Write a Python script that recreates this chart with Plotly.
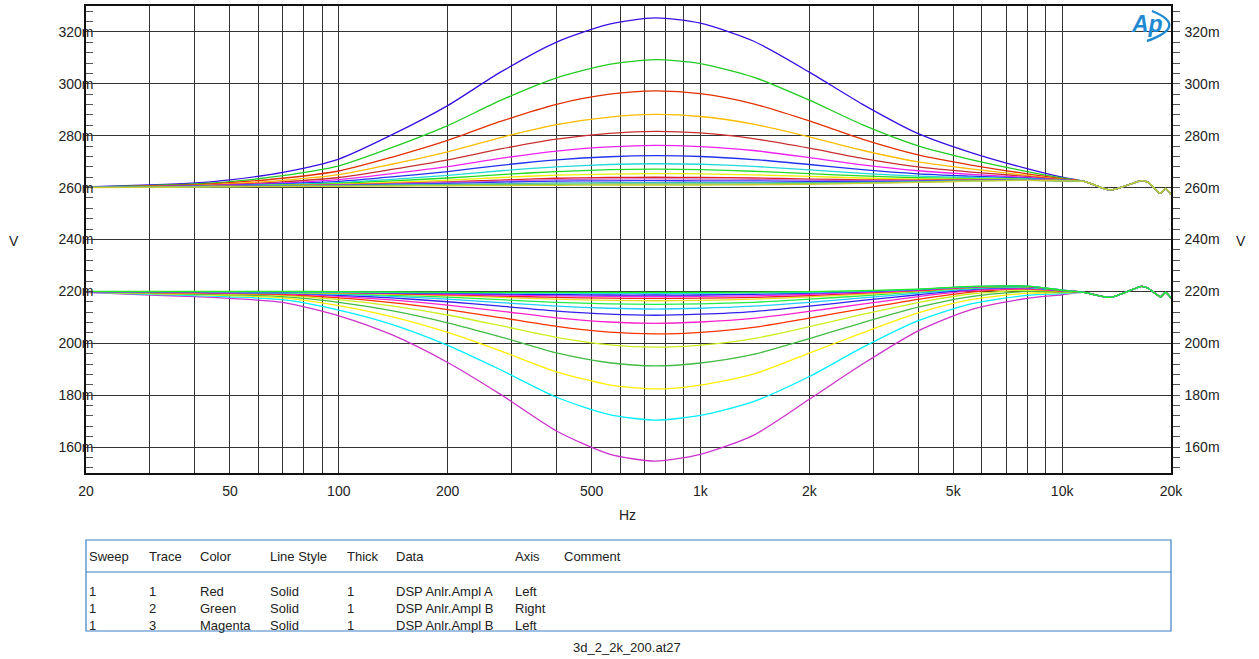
import plotly.graph_objects as go

# ---------------- data (values in mV) ----------------
FREQ = [20, 30, 40, 50, 70, 100, 140, 200, 280, 400, 560, 750, 1000, 1400,
        2000, 2800, 4000, 5600, 8000, 10000]
TAIL_FREQ = [11500, 13600, 16600, 17300, 18700, 19300, 20000]
TAIL_UPPER = [262.4, 259.1, 262.7, 262.0, 257.8, 259.7, 257.3]
TAIL_LOWER = [219.6, 217.7, 221.9, 221.2, 217.9, 219.6, 217.4]

U01 = [260.3, 261.0, 261.8, 263.0, 265.9, 271.0, 280.3, 291.6, 304.5, 316.1, 323.0, 325.4, 323.4, 316.5, 304.5, 292.2, 280.8, 273.5, 267.3, 264.0]
U02 = [260.2, 260.8, 261.4, 262.3, 264.6, 268.4, 275.4, 283.9, 293.6, 302.3, 307.5, 309.3, 307.8, 302.6, 293.7, 284.3, 276.1, 270.8, 266.2, 263.7]
U03 = [260.2, 260.6, 261.1, 261.9, 263.6, 266.4, 271.7, 278.2, 285.5, 292.1, 296.0, 297.3, 296.2, 292.3, 285.7, 278.7, 272.6, 268.7, 265.3, 263.4]
U04 = [260.2, 260.5, 260.9, 261.5, 262.8, 265.0, 269.0, 273.8, 279.3, 284.3, 287.2, 288.2, 287.4, 284.5, 279.6, 274.4, 269.9, 267.2, 264.7, 263.2]
U05 = [260.2, 260.5, 260.8, 261.2, 262.2, 263.9, 267.0, 270.7, 274.9, 278.7, 280.9, 281.7, 281.1, 278.9, 275.2, 271.3, 268.0, 266.0, 264.3, 263.1]
U06 = [260.1, 260.4, 260.7, 261.0, 261.8, 263.1, 265.4, 268.1, 271.3, 274.1, 275.7, 276.3, 275.8, 274.3, 271.6, 268.8, 266.5, 265.1, 263.9, 262.9]
U07 = [260.1, 260.3, 260.6, 260.9, 261.5, 262.4, 264.1, 266.2, 268.6, 270.7, 271.9, 272.3, 272.0, 270.8, 268.9, 266.9, 265.3, 264.4, 263.6, 262.9]
U08 = [260.1, 260.3, 260.5, 260.7, 261.2, 261.9, 263.2, 264.7, 266.5, 268.0, 268.9, 269.2, 269.0, 268.2, 266.8, 265.5, 264.4, 263.9, 263.4, 262.8]
U09 = [260.1, 260.3, 260.4, 260.6, 261.0, 261.6, 262.6, 263.7, 265.0, 266.2, 266.9, 267.1, 266.9, 266.3, 265.4, 264.5, 263.8, 263.5, 263.2, 262.7]
U10 = [260.1, 260.3, 260.4, 260.6, 260.9, 261.3, 262.0, 262.9, 263.9, 264.8, 265.2, 265.4, 265.3, 264.9, 264.3, 263.7, 263.3, 263.3, 263.1, 262.7]
U11 = [260.1, 260.2, 260.4, 260.5, 260.8, 261.1, 261.6, 262.2, 262.9, 263.6, 263.9, 264.0, 263.9, 263.7, 263.3, 263.0, 262.9, 263.0, 263.0, 262.7]
U12 = [260.1, 260.2, 260.4, 260.5, 260.7, 261.0, 261.4, 262.0, 262.5, 263.1, 263.3, 263.4, 263.3, 263.2, 262.9, 262.7, 262.7, 262.9, 263.0, 262.7]
U13 = [260.1, 260.2, 260.3, 260.5, 260.6, 260.9, 261.2, 261.6, 262.1, 262.5, 262.6, 262.7, 262.6, 262.6, 262.4, 262.4, 262.5, 262.8, 262.9, 262.6]
U14 = [260.1, 260.2, 260.3, 260.4, 260.6, 260.7, 261.0, 261.2, 261.5, 261.8, 261.9, 261.9, 261.9, 261.9, 261.9, 262.0, 262.3, 262.7, 262.9, 262.6]
U15 = [260.1, 260.2, 260.3, 260.4, 260.5, 260.7, 260.8, 261.0, 261.2, 261.3, 261.4, 261.4, 261.4, 261.4, 261.6, 261.8, 262.1, 262.6, 262.8, 262.6]
U16 = [260.0, 260.1, 260.2, 260.3, 260.4, 260.5, 260.6, 260.7, 260.8, 260.9, 261.0, 261.0, 261.0, 261.1, 261.3, 261.6, 262.0, 262.5, 262.8, 262.6]

L01 = [219.6, 218.6, 218.0, 217.3, 215.8, 210.6, 203.3, 192.6, 180.3, 166.2, 157.3, 154.6, 157.2, 164.5, 178.4, 191.9, 204.8, 213.0, 217.3, 218.7]
L02 = [219.7, 218.9, 218.4, 217.9, 216.8, 212.8, 207.3, 199.2, 189.8, 179.2, 172.5, 170.4, 172.2, 177.5, 187.2, 198.3, 208.7, 215.2, 218.5, 219.1]
L03 = [219.7, 219.1, 218.8, 218.4, 217.5, 214.5, 210.3, 204.2, 197.1, 189.0, 184.0, 182.4, 183.9, 188.1, 196.2, 204.0, 211.7, 216.8, 219.3, 219.5]
L04 = [219.7, 219.3, 219.0, 218.7, 218.0, 215.8, 212.6, 207.9, 202.5, 196.3, 192.5, 191.3, 192.4, 195.7, 201.8, 207.9, 213.9, 218.0, 220.0, 219.7]
L05 = [219.7, 219.4, 219.2, 219.0, 218.5, 216.8, 214.4, 210.9, 206.8, 202.3, 199.4, 198.5, 199.3, 201.8, 206.4, 211.1, 215.7, 219.0, 220.5, 219.9]
L06 = [219.8, 219.5, 219.4, 219.2, 218.8, 217.5, 215.7, 213.0, 209.9, 206.5, 204.3, 203.6, 204.2, 206.1, 209.7, 213.3, 216.9, 219.7, 220.9, 220.1]
L07 = [219.8, 219.6, 219.5, 219.3, 219.1, 218.1, 216.7, 214.7, 212.4, 209.8, 208.2, 207.7, 208.2, 209.6, 212.3, 215.1, 218.0, 220.3, 221.1, 220.2]
L08 = [219.8, 219.6, 219.6, 219.5, 219.3, 218.5, 217.5, 216.0, 214.3, 212.4, 211.2, 210.8, 211.2, 212.2, 214.3, 216.5, 218.7, 220.7, 221.4, 220.3]
L09 = [219.8, 219.7, 219.6, 219.6, 219.4, 218.9, 218.1, 217.0, 215.7, 214.3, 213.5, 213.2, 213.5, 214.3, 215.8, 217.5, 219.3, 221.0, 221.5, 220.3]
L10 = [219.8, 219.7, 219.7, 219.6, 219.5, 219.1, 218.5, 217.8, 216.8, 215.8, 215.2, 215.0, 215.2, 215.8, 217.0, 218.3, 219.8, 221.3, 221.7, 220.4]
L11 = [219.8, 219.7, 219.7, 219.7, 219.6, 219.3, 218.9, 218.4, 217.7, 217.0, 216.5, 216.4, 216.5, 217.0, 217.9, 218.9, 220.1, 221.5, 221.8, 220.4]
L12 = [219.8, 219.8, 219.7, 219.7, 219.7, 219.5, 219.1, 218.7, 218.2, 217.7, 217.4, 217.3, 217.4, 217.7, 218.4, 219.3, 220.3, 221.6, 221.8, 220.4]
L13 = [219.8, 219.8, 219.8, 219.7, 219.7, 219.6, 219.3, 219.0, 218.6, 218.3, 218.1, 218.0, 218.1, 218.3, 218.9, 219.6, 220.5, 221.7, 221.9, 220.5]
L14 = [219.9, 219.8, 219.8, 219.8, 219.7, 219.7, 219.4, 219.3, 219.0, 218.8, 218.6, 218.6, 218.6, 218.9, 219.3, 219.9, 220.7, 221.8, 221.9, 220.5]
L15 = [219.9, 219.9, 219.9, 219.8, 219.8, 219.7, 219.6, 219.5, 219.4, 219.3, 219.2, 219.2, 219.2, 219.4, 219.6, 220.1, 220.8, 221.8, 222.0, 220.5]
L16 = [220.0, 220.0, 220.0, 220.0, 220.0, 219.9, 219.8, 219.7, 219.6, 219.6, 219.6, 219.6, 219.6, 219.7, 219.9, 220.3, 220.9, 221.9, 222.0, 220.5]

UPPER = [U01, U02, U03, U04, U05, U06, U07, U08, U09, U10, U11, U12, U13, U14, U15, U16]
LOWER = [L01, L02, L03, L04, L05, L06, L07, L08, L09, L10, L11, L12, L13, L14, L15, L16]
UPPER_COLORS = ["#3a10e0", "#22cc22", "#e03000", "#ffbb00", "#c83030", "#ee22ee",
                "#2233ee", "#22d8d8", "#22dd22", "#eeee00", "#dd2222", "#cc66cc",
                "#3333ff", "#44bbbb", "#66cc66", "#cccc33"]
LOWER_COLORS = ["#cc33cc", "#00eeff", "#ffee00", "#44bb44", "#ccee22", "#ff3300",
                "#ff22cc", "#3322ee", "#22ccff", "#22ee44", "#eedd22", "#ee2222",
                "#ee22ee", "#2222ee", "#22dddd", "#22ee22"]

X_GRID = [20, 30, 40, 50, 60, 70, 80, 90, 100, 200, 300, 400, 500, 600, 700, 800, 900,
          1000, 2000, 3000, 4000, 5000, 6000, 7000, 8000, 9000, 10000, 20000]
X_LABELED = {20: "20", 50: "50", 100: "100", 200: "200", 500: "500", 1000: "1k",
             2000: "2k", 5000: "5k", 10000: "10k", 20000: "20k"}
Y_TICKS = [160, 180, 200, 220, 240, 260, 280, 300, 320]
Y_LABELS = ["160m", "180m", "200m", "220m", "240m", "260m", "280m", "300m", "320m"]

TABLE_HEADERS = ["Sweep", "Trace", "Color", "Line Style", "Thick", "Data", "Axis", "Comment"]
TABLE_ROWS = [["1", "1", "Red", "Solid", "1", "DSP Anlr.Ampl A", "Left", ""],
              ["1", "2", "Green", "Solid", "1", "DSP Anlr.Ampl B", "Right", ""],
              ["1", "3", "Magenta", "Solid", "1", "DSP Anlr.Ampl B", "Left", ""]]
COL_PX = [87, 147, 198, 268, 345, 394, 513, 562]
FOOTER = "3d_2_2k_200.at27"

# ---------------- figure ----------------
W, H = 1259, 659
L, R, T, B = 86, 1171, 6, 473
FONT = "Liberation Sans, Arial, sans-serif"


def px(x):
    return (x - L) / (R - L)


def py(y):
    return (B - y) / (B - T)


fig = go.Figure()
for vals, col in zip(LOWER, LOWER_COLORS):
    fig.add_trace(go.Scatter(x=FREQ + TAIL_FREQ, y=vals + TAIL_LOWER, mode="lines",
                             line=dict(color=col, width=1.3, shape="spline", smoothing=0.7),
                             yaxis="y2", hoverinfo="x+y"))
for vals, col in zip(UPPER, UPPER_COLORS):
    fig.add_trace(go.Scatter(x=FREQ + TAIL_FREQ, y=vals + TAIL_UPPER, mode="lines",
                             line=dict(color=col, width=1.3, shape="spline", smoothing=0.7),
                             hoverinfo="x+y"))

yrange = [150, 330]
axis_font = dict(family=FONT, size=14, color="#222")

fig.update_layout(
    width=W, height=H, autosize=False,
    margin=dict(l=L, r=W - R, t=T, b=H - B, pad=0),
    paper_bgcolor="white", plot_bgcolor="white",
    showlegend=False,
    font=dict(family=FONT, size=13, color="#222"),
    xaxis=dict(type="log", range=[1.30103, 4.30103], tickmode="array",
               tickvals=X_GRID, ticktext=[X_LABELED.get(v, "") for v in X_GRID],
               showgrid=True, gridcolor="#333", gridwidth=1,
               ticks="outside", ticklen=4, tickcolor="rgba(0,0,0,0)",
               showline=True, linecolor="#111", linewidth=1.5, mirror=True,
               tickfont=axis_font, zeroline=False, automargin=False),
    yaxis=dict(range=yrange, tickmode="array", tickvals=Y_TICKS, ticktext=Y_LABELS,
               showgrid=True, gridcolor="#333", gridwidth=1,
               ticks="inside", ticklen=7, tickcolor="#555", tickwidth=1,
               minor=dict(tickmode="linear", tick0=0, dtick=4, ticks="inside",
                          ticklen=7, tickcolor="#555", tickwidth=1, showgrid=False),
               showline=True, linecolor="#111", linewidth=1.5,
               ticklabelstandoff=-12,
               tickfont=axis_font, zeroline=False, automargin=False),
    yaxis2=dict(range=yrange, overlaying="y", side="right", tickmode="array",
                tickvals=Y_TICKS, ticktext=Y_LABELS, showgrid=False,
                ticks="outside", ticklen=7, tickcolor="#555", tickwidth=1,
                minor=dict(tickmode="linear", tick0=0, dtick=4, ticks="outside",
                           ticklen=7, tickcolor="#555", tickwidth=1, showgrid=False),
                showline=True, linecolor="#111", linewidth=1.5,
                ticklabelstandoff=2,
                tickfont=axis_font, zeroline=False, automargin=False),
)

txt_font = dict(family=FONT, size=13, color="#222")
ann = []
ann.append(dict(text="Hz", x=px(627), y=py(515), xref="paper", yref="paper",
                xanchor="center", yanchor="middle", showarrow=False,
                font=dict(family=FONT, size=14, color="#222")))
ann.append(dict(text="V", x=px(14), y=py(241), xref="paper", yref="paper",
                xanchor="center", yanchor="middle", showarrow=False,
                font=dict(family=FONT, size=14, color="#222")))
ann.append(dict(text="V", x=px(1241), y=py(241), xref="paper", yref="paper",
                xanchor="center", yanchor="middle", showarrow=False,
                font=dict(family=FONT, size=14, color="#222")))
# legend table
for h, cx in zip(TABLE_HEADERS, COL_PX):
    ann.append(dict(text=h, x=px(cx), y=py(556), xref="paper", yref="paper",
                    xanchor="left", yanchor="middle", showarrow=False, font=txt_font))
for row, ry in zip(TABLE_ROWS, [591, 608, 625]):
    for cell, cx in zip(row, COL_PX):
        if cell:
            ann.append(dict(text=cell, x=px(cx), y=py(ry), xref="paper", yref="paper",
                            xanchor="left", yanchor="middle", showarrow=False,
                            font=txt_font))
ann.append(dict(text=FOOTER, x=px(627), y=py(647), xref="paper", yref="paper",
                xanchor="center", yanchor="middle", showarrow=False, font=txt_font))
# Ap logo
ann.append(dict(text="<b><i>Ap</i></b>", x=px(1147), y=py(24), xref="paper", yref="paper",
                xanchor="center", yanchor="middle", showarrow=False,
                font=dict(family=FONT, size=23, color="#1f8ad2")))
fig.update_layout(annotations=ann)

shapes = [
    dict(type="rect", xref="paper", yref="paper", x0=px(86), x1=px(1171),
         y0=py(540), y1=py(631), line=dict(color="#3a80c8", width=1.2)),
    dict(type="line", xref="paper", yref="paper", x0=px(86), x1=px(1171),
         y0=py(572), y1=py(572), line=dict(color="#3a80c8", width=1.2)),
    dict(type="path", xref="paper", yref="paper",
         path=f"M {px(1152)},{py(11)} Q {px(1189)},{py(26)} {px(1147)},{py(41)}",
         line=dict(color="#1f8ad2", width=2.4)),
]
fig.update_layout(shapes=shapes)

fig.write_html("out.html", config={"displayModeBar": False},
               post_script="document.body.style.margin='0px';")
